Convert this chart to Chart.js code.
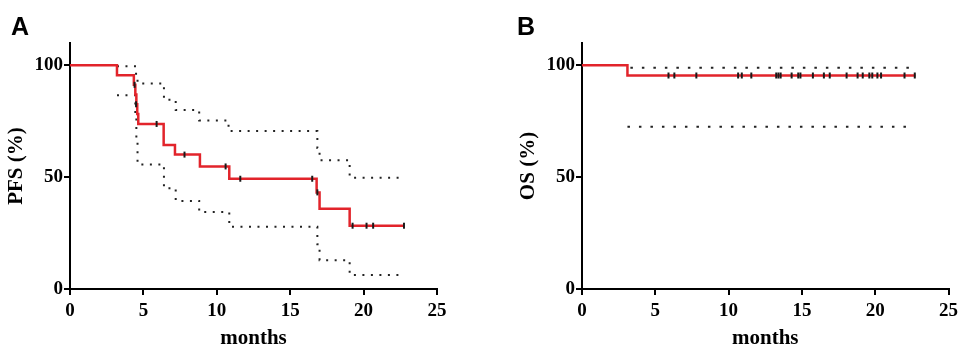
<!DOCTYPE html>
<html>
<head>
<meta charset="utf-8">
<script src="https://cdn.jsdelivr.net/npm/chart.js@4.4.1/dist/chart.umd.min.js"></script>
<style>
  html, body { margin: 0; padding: 0; background: #fff; }
  #wrap { position: relative; width: 963px; height: 352px; }
  #pfs-chart { position: absolute; left: 0; top: 0; }
  #os-chart { position: absolute; left: 480px; top: 0; }
</style>
</head>
<body>
<div id="wrap">
  <canvas id="pfs-chart" width="480" height="352"></canvas>
  <canvas id="os-chart" width="483" height="352"></canvas>
</div>
<script>
const monthTicks = [0, 5, 10, 15, 20, 25];
const percentTicks = [0, 50, 100];

// A: PFS Kaplan-Meier curve and 95% CI
const pfsMonths = [0, 3.2, 4.35, 4.45, 4.52, 4.58, 4.65, 6.38, 7.15, 8.85, 10.85, 16.8, 17.0, 19.05, 22.75];
const pfsValues = [100, 95.6, 91.3, 87.0, 82.6, 78.3, 73.8, 64.4, 60.1, 54.8, 49.3, 43.2, 35.9, 28.3, 28.3];
const pfsUpperMonths = [3.2, 4.5, 4.6, 6.4, 7.2, 8.8, 10.8, 16.85, 17.0, 19.05, 22.7];
const pfsUpperValues = [99.6, 95.5, 91.9, 84.6, 80.0, 75.4, 70.6, 63.0, 57.6, 49.8, 49.8];
const pfsLowerMonths = [3.2, 4.45, 4.52, 4.6, 6.4, 7.2, 8.8, 10.85, 16.85, 17.0, 19.05, 22.6];
const pfsLowerValues = [86.6, 78.0, 66.0, 55.7, 45.0, 39.4, 34.4, 27.8, 20.0, 12.9, 6.3, 6.3];
const pfsCensorMonths = [4.4, 4.5, 5.9, 7.8, 10.6, 11.6, 16.5, 16.85, 19.25, 20.2, 20.65, 22.75];
const pfsCensorValues = [91.3, 82.6, 73.8, 60.1, 54.8, 49.3, 49.3, 43.2, 28.3, 28.3, 28.3, 28.3];

// B: OS Kaplan-Meier curve and 95% CI
const osMonths = [0, 3.1, 22.75];
const osValues = [100, 95.5, 95.5];
const osUpperMonths = [3.3, 22.7];
const osUpperValues = [98.9, 98.9];
const osLowerMonths = [3.1, 22.65];
const osLowerValues = [72.6, 72.6];
const osCensorMonths = [5.9, 6.3, 7.8, 10.65, 10.9, 11.55, 13.25, 13.4, 13.55, 14.3, 14.75, 14.9, 15.75,
  16.5, 16.9, 18.05, 18.8, 19.15, 19.6, 19.8, 20.15, 20.4, 22.0, 22.7];
const osCensorValues = osCensorMonths.map(() => 95.5);

const RED = '#e2242b';
const SERIF = "'Liberation Serif', 'Times New Roman', serif";

function pairs(xs, ys) {
    return xs.map((x, i) => ({ x, y: ys[i] }));
}

function curveSets(months, values, upperM, upperV, lowerM, lowerV, censorM, censorV, dash) {
    const dotted = {
        showLine: true,
        stepped: 'before',
        borderColor: '#222',
        borderWidth: 2,
        borderDash: dash,
        pointRadius: 0,
        fill: false,
        order: 2,
    };
    return [
        {
            data: pairs(censorM, censorV),
            pointStyle: 'line',
            rotation: 90,
            pointRadius: 3,
            pointBorderWidth: 2,
            borderColor: '#1a1a1a',
            showLine: false,
            order: 0,
        },
        {
            data: pairs(months, values),
            showLine: true,
            stepped: 'before',
            borderColor: RED,
            borderWidth: 2.5,
            pointRadius: 0,
            fill: false,
            order: 1,
        },
        { ...dotted, data: pairs(upperM, upperV) },
        { ...dotted, data: pairs(lowerM, lowerV) },
    ];
}

const panelLetter = {
    id: 'panelLetter',
    afterDraw(chart, args, opts) {
        const ctx = chart.ctx;
        ctx.save();
        ctx.font = "bold 25px 'Liberation Sans', Arial, sans-serif";
        ctx.fillStyle = '#000';
        ctx.textBaseline = 'alphabetic';
        ctx.fillText(opts.text, opts.x, 35);
        ctx.restore();
    },
};

function makeOptions(yTitle, letter, letterX, padLeft, padRight) {
    const axisGrid = {
        display: true,
        drawOnChartArea: false,
        drawTicks: true,
        tickLength: 6,
        color: '#000',
        lineWidth: 2,
    };
    const tickFont = { family: SERIF, weight: 'bold', size: 19 };
    const titleFont = { family: SERIF, weight: 'bold', size: 21 };
    return {
        responsive: false,
        animation: false,
        layout: { padding: { top: 43, right: padRight, left: padLeft, bottom: 0 } },
        scales: {
            x: {
                type: 'linear',
                min: 0,
                max: 25,
                afterBuildTicks: (axis) => { axis.ticks = monthTicks.map((v) => ({ value: v })); },
                afterFit: (axis) => { axis.height = 63; },
                ticks: { color: '#000', font: tickFont, padding: 5, maxRotation: 0 },
                grid: axisGrid,
                border: { display: true, color: '#000', width: 2 },
                title: { display: true, text: 'months', color: '#000', font: titleFont, padding: { top: 0, bottom: 1 } },
            },
            y: {
                type: 'linear',
                min: 0,
                max: 110,
                afterBuildTicks: (axis) => { axis.ticks = percentTicks.map((v) => ({ value: v })); },
                afterFit: (axis) => { axis.width = 70; },
                ticks: { color: '#000', font: tickFont, padding: 1 },
                grid: axisGrid,
                border: { display: true, color: '#000', width: 2 },
                title: { display: true, text: yTitle, color: '#000', font: titleFont, padding: { top: 4, bottom: 0 } },
            },
        },
        plugins: {
            legend: { display: false },
            tooltip: { enabled: false },
            panelLetter: { text: letter, x: letterX },
        },
    };
}

new Chart(document.getElementById('pfs-chart'), {
    type: 'scatter',
    data: {
        datasets: curveSets(pfsMonths, pfsValues, pfsUpperMonths, pfsUpperValues,
            pfsLowerMonths, pfsLowerValues, pfsCensorMonths, pfsCensorValues, [2, 6.5]),
    },
    options: makeOptions('PFS (%)', 'A', 11, 0, 43),
    plugins: [panelLetter],
});

new Chart(document.getElementById('os-chart'), {
    type: 'scatter',
    data: {
        datasets: curveSets(osMonths, osValues, osUpperMonths, osUpperValues,
            osLowerMonths, osLowerValues, osCensorMonths, osCensorValues, [2.5, 9]),
    },
    options: makeOptions('OS (%)', 'B', 37, 32, 14),
    plugins: [panelLetter],
});
</script>
</body>
</html>
